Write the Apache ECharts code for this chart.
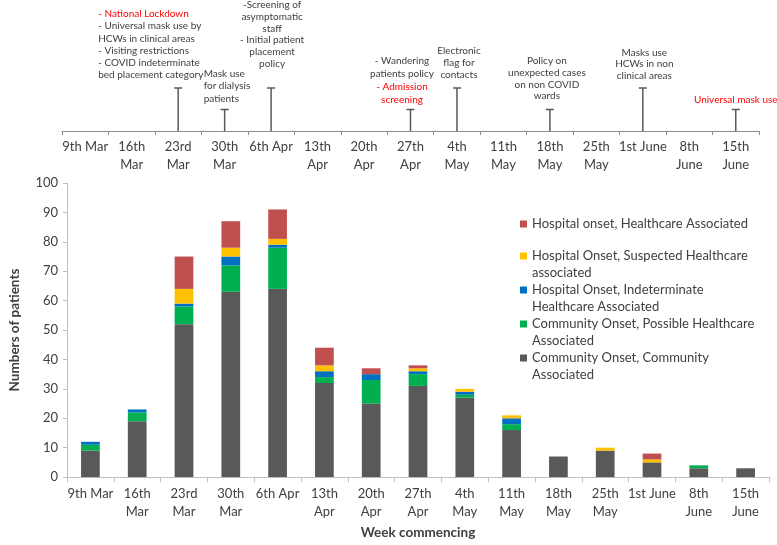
<!DOCTYPE html>
<html>
<head>
<meta charset="utf-8">
<script src="https://cdn.jsdelivr.net/npm/echarts@6/dist/echarts.min.js"></script>
<style>
  html, body { margin: 0; padding: 0; background: #ffffff; }
  #chart { width: 777px; height: 545px; }
</style>
</head>
<body>
<div id="chart"></div>
<script>
// ---------- data ----------
const weeks = ['9th Mar', '16th\nMar', '23rd\nMar', '30th\nMar', '6th Apr', '13th\nApr', '20th\nApr',
  '27th\nApr', '4th\nMay', '11th\nMay', '18th\nMay', '25th\nMay', '1st June', '8th\nJune', '15th\nJune'];

const communityOnsetCommunity   = [9, 19, 52, 63, 64, 32, 25, 31, 27, 16, 7, 9, 5, 3, 3];
const communityOnsetPossibleHA  = [2, 3, 6, 9, 14, 2, 8, 4, 1, 2, 0, 0, 0, 1, 0];
const hospitalOnsetIndeterminate = [1, 1, 1, 3, 1, 2, 2, 1, 1, 2, 0, 0, 0, 0, 0];
const hospitalOnsetSuspectedHA  = [0, 0, 5, 3, 2, 2, 0, 1, 1, 1, 0, 1, 1, 0, 0];
const hospitalOnsetHA           = [0, 0, 11, 9, 10, 6, 2, 1, 0, 0, 0, 0, 2, 0, 0];

const seriesNames = [
  'Community Onset, Community Associated',
  'Community Onset, Possible Healthcare Associated',
  'Hospital Onset, Indeterminate Healthcare Associated',
  'Hospital Onset, Suspected Healthcare associated',
  'Hospital onset, Healthcare Associated'
];

const yTickValues = [0, 10, 20, 30, 40, 50, 60, 70, 80, 90, 100];

// timeline annotations (week index, stem level, text)
const annotationWeeks  = [2, 3, 4, 7, 8, 10, 12, 14];
const annotationLevels = [2, 1, 2, 1, 2, 1, 2, 1];
const annotationTexts = [
  '{red|- National Lockdown}\n- Universal mask use by\nHCWs in clinical areas\n- Visiting restrictions\n- COVID indeterminate\nbed placement category',
  'Mask use\nfor dialysis\npatients',
  '-Screening of\nasymptomatic\nstaff\n- Initial patient\nplacement\npolicy',
  '- Wandering\npatients policy\n{red|- Admission}\n{red|screening}',
  'Electronic\nflag for\ncontacts',
  'Policy on\nunexpected cases\non non COVID\nwards',
  'Masks use\nHCWs in non\nclinical areas',
  '{red|Universal mask use}'
];

// ---------- styling ----------
const FONT = 'Lato, "Open Sans", sans-serif';
const TXT = '#404040';
const colors = ['#595959', '#00b050', '#0070c0', '#ffc000', '#c0504d'];
const seriesData = [communityOnsetCommunity, communityOnsetPossibleHA, hospitalOnsetIndeterminate,
  hospitalOnsetSuspectedHA, hospitalOnsetHA];

// per-annotation text layout: [align, dx, gap, lineHeight]
const annoLayout = [
  ['left', -80, 7, 12.2],
  ['left', -21, 4.5, 12.5],
  ['center', 1, 18, 11.9],
  ['center', -8.5, 3.3, 13],
  ['center', 2, 7.4, 11.8],
  ['center', -3, 7.5, 11.7],
  ['center', 1.5, 7, 11.4],
  ['center', 0, 4, 12]
];

const legendLabels = [
  'Hospital onset, Healthcare Associated',
  'Hospital Onset, Suspected Healthcare\nassociated',
  'Hospital Onset, Indeterminate\nHealthcare Associated',
  'Community Onset, Possible Healthcare\nAssociated',
  'Community Onset, Community\nAssociated'
];
const legendOrder = [4, 3, 2, 1, 0];
const legendTops = [215.5, 247.5, 281.5, 315.5, 349.5];

const legends = legendOrder.map((si, k) => {
  const twoLine = legendLabels[k].indexOf('\n') >= 0;
  return {
    left: 520,
    top: legendTops[k],
    padding: 0,
    orient: 'vertical',
    icon: twoLine ? 'path://M0,0h7v7h-7zM0,24h7' : 'rect',
    itemWidth: 7,
    itemHeight: twoLine ? 24 : 7,
    selectedMode: false,
    data: [seriesNames[si]],
    formatter: () => legendLabels[k],
    textStyle: { color: TXT, fontFamily: FONT, fontSize: 13, lineHeight: 17 }
  };
});

const barSeries = seriesData.map((d, i) => ({
  name: seriesNames[i],
  type: 'bar',
  stack: 'total',
  xAxisIndex: 0,
  yAxisIndex: 0,
  barWidth: '40%',
  itemStyle: { color: colors[i] },
  data: d
}));

const annotationSeries = {
  type: 'custom',
  xAxisIndex: 1,
  yAxisIndex: 1,
  clip: false,
  silent: true,
  data: annotationWeeks.map((w, i) => [w, annotationLevels[i]]),
  renderItem: function (params, api) {
    const i = params.dataIndex;
    const base = api.coord([api.value(0), 0]);
    const top = api.coord([api.value(0), api.value(1)]);
    const lay = annoLayout[i];
    const stroke = '#595959';
    return {
      type: 'group',
      children: [
        { type: 'line', shape: { x1: base[0], y1: base[1], x2: base[0], y2: top[1] },
          style: { stroke: stroke, lineWidth: 1.5 } },
        { type: 'line', shape: { x1: base[0] - 4, y1: top[1], x2: base[0] + 4, y2: top[1] },
          style: { stroke: stroke, lineWidth: 1.5 } },
        { type: 'text', x: base[0] + lay[1], y: top[1] - lay[2],
          style: {
            text: annotationTexts[i],
            fill: TXT, fontFamily: FONT, fontSize: 10, lineHeight: lay[3],
            align: lay[0], verticalAlign: 'bottom',
            rich: { red: { fill: '#ff0000', fontFamily: FONT, fontSize: 10, lineHeight: lay[3] } }
          } }
      ]
    };
  }
};

const option = {
  animation: false,
  backgroundColor: '#ffffff',
  textStyle: { fontFamily: FONT },
  legend: legends,
  grid: [
    { left: 62, right: 8, top: 183, bottom: 62 },
    { left: 62, right: 18, top: 31, bottom: 414 }
  ],
  xAxis: [
    {
      type: 'category', gridIndex: 0, data: weeks,
      name: 'Week commencing', nameLocation: 'middle', nameGap: 48,
      nameTextStyle: { color: TXT, fontWeight: 'bold', fontSize: 13.5, fontFamily: FONT },
      axisLine: { lineStyle: { color: '#bfbfbf', width: 1 } },
      axisTick: { show: true, interval: 0, length: 5, lineStyle: { color: '#bfbfbf' } },
      axisLabel: { interval: 0, color: TXT, fontSize: 13, lineHeight: 18, margin: 8, fontFamily: FONT }
    },
    {
      type: 'category', gridIndex: 1, data: weeks,
      axisLine: { lineStyle: { color: '#8c8c8c', width: 1 } },
      axisTick: { show: true, interval: 0, length: 4, lineStyle: { color: '#8c8c8c' } },
      axisLabel: { interval: 0, color: TXT, fontSize: 13, lineHeight: 18, margin: 7, fontFamily: FONT }
    }
  ],
  yAxis: [
    {
      type: 'value', gridIndex: 0, min: yTickValues[0], max: yTickValues[yTickValues.length - 1], interval: 10,
      name: 'Numbers of patients', nameLocation: 'middle', nameGap: 45,
      nameTextStyle: { color: TXT, fontWeight: 'bold', fontSize: 13.5, fontFamily: FONT },
      axisLine: { show: true, lineStyle: { color: '#bfbfbf' } },
      axisTick: { show: true, length: 4, lineStyle: { color: '#bfbfbf' } },
      axisLabel: { color: TXT, fontSize: 13, margin: 9, fontFamily: FONT },
      splitLine: { show: false }
    },
    {
      type: 'value', gridIndex: 1, min: 0, max: 4.65, show: false,
      splitLine: { show: false }
    }
  ],
  series: barSeries.concat([annotationSeries])
};

const chart = echarts.init(document.getElementById('chart'), null, { renderer: 'canvas' });
chart.setOption(option);
</script>
</body>
</html>
